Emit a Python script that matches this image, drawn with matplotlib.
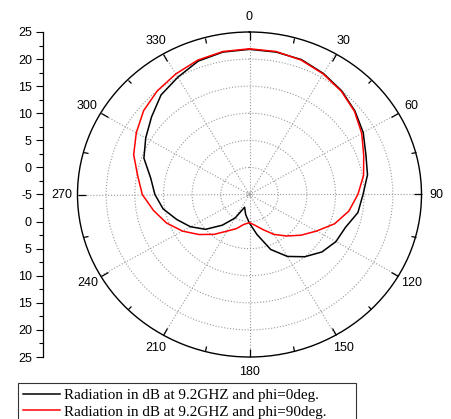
import numpy as np
import matplotlib
matplotlib.use("Agg")
import matplotlib.pyplot as plt
from matplotlib.ticker import MultipleLocator

plt.rcParams['font.family'] = ['Liberation Sans', 'DejaVu Sans']

# angles in degrees, gain in dB
angle = np.arange(0, 370, 10)
phi0 = [21.8, 21.7, 21.5, 20.8, 20.0, 19.0, 17.9, 16.6, 15.9, 14.8,
        14.2, 12.8, 12.4, 11.5, 10.0, 8.2, 5.8, 2.5, 0.3, -1.2,
        -2.5, 0.0, 2.4, 5.0, 6.9, 8.5, 10.3, 11.5, 12.5, 14.6,
        15.9, 17.3, 19.0, 20.0, 21.2, 21.7, 21.8]
phi90 = [21.9, 21.8, 21.4, 20.7, 19.9, 18.9, 17.6, 16.2, 15.2, 13.9,
         12.6, 10.8, 8.5, 6.7, 5.0, 3.5, 1.9, 0.8, 0.2, 0.6,
         1.7, 2.8, 4.6, 6.5, 8.5, 10.4, 12.0, 13.7, 14.8, 16.5,
         17.8, 19.1, 20.0, 20.7, 21.4, 21.8, 21.9]

theta_ticks = np.arange(0, 360, 30)
theta_labels = [str(t) for t in theta_ticks]
r_rings = [-4.6, 0, 5, 10, 15, 20]
left_pos = np.arange(-30, 31, 5)
left_labels = ['25', '20', '15', '10', '5', '0', '-5', '0', '5', '10', '15', '20', '25']

W, H = 451, 419
fig = plt.figure(figsize=(W / 100, H / 100), dpi=100)

l, b, w, h = 77.5 / W, 62 / H, 344 / W, 325 / H
ax = fig.add_axes([l, b, w, h], projection='polar')
ax.set_aspect('auto')
ax.set_theta_zero_location('N')
ax.set_theta_direction(-1)
ax.set_ylim(-5, 25)
ax.set_yticks(r_rings)
ax.set_yticklabels([])
ax.set_xticks(np.deg2rad(theta_ticks))
ax.set_xticklabels(theta_labels)
ax.set_xticks(np.deg2rad(theta_ticks + 15), minor=True)
ax.grid(True, color='0.6', linestyle=':', linewidth=0.8)
ax.tick_params(axis='x', which='both', bottom=False, top=True, direction='in',
               width=0.9, color='black')
ax.tick_params(axis='x', which='major', length=6, pad=4, labelsize=9)
ax.tick_params(axis='x', which='minor', length=3.5)
ax.tick_params(axis='y', length=0)
ax.spines['polar'].set_linewidth(1.0)

l1, = ax.plot(np.deg2rad(angle), phi0, color='black', lw=1.1,
              label='Radiation in dB at 9.2GHZ and phi=0deg.')
l2, = ax.plot(np.deg2rad(angle), phi90, color='red', lw=1.1,
              label='Radiation in dB at 9.2GHZ and phi=90deg.')

# left scale
ax2 = fig.add_axes([43 / W, b, 0.001, h])
ax2.patch.set_visible(False)
for s in ['top', 'right', 'bottom']:
    ax2.spines[s].set_visible(False)
ax2.spines['left'].set_linewidth(0.9)
ax2.set_xticks([])
ax2.set_ylim(-30, 30)
ax2.set_yticks(left_pos)
ax2.set_yticklabels(left_labels)
ax2.yaxis.set_minor_locator(MultipleLocator(2.5))
ax2.tick_params(axis='y', which='major', length=5, width=0.8, pad=3, labelsize=9)
ax2.tick_params(axis='y', which='minor', length=3, width=0.8)

leg = fig.legend(handles=[l1, l2], loc='upper left',
                 bbox_to_anchor=(18 / W, 1 - 383 / H - 0.1, 338 / W, 0.1),
                 mode='expand', borderaxespad=0,
                 prop={'family': 'Liberation Serif', 'size': 10.9},
                 frameon=True, fancybox=False, edgecolor='black',
                 handlelength=2.4, handletextpad=0.3, borderpad=0.35,
                 labelspacing=0.2)
leg.get_frame().set_linewidth(0.8)

fig.savefig('out.png', dpi=100)
